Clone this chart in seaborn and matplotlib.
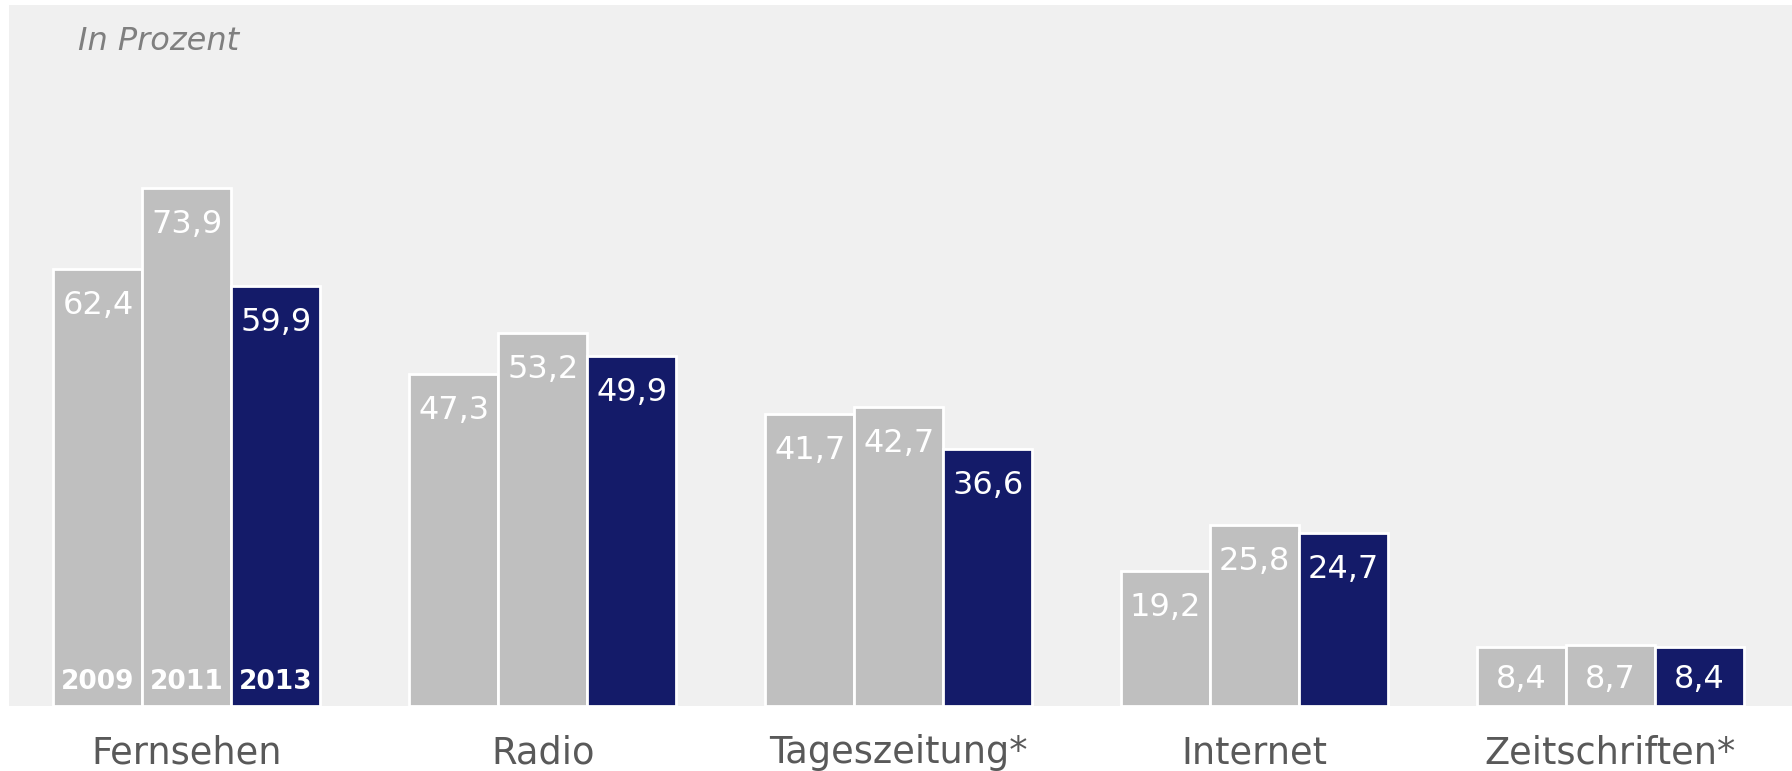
import matplotlib
matplotlib.use("Agg")
import matplotlib.pyplot as plt
import seaborn as sns
import pandas as pd

categories = ["Fernsehen", "Radio", "Tageszeitung*", "Internet", "Zeitschriften*"]
years = ["2009", "2011", "2013"]
v2009 = [62.4, 47.3, 41.7, 19.2, 8.4]
v2011 = [73.9, 53.2, 42.7, 25.8, 8.7]
v2013 = [59.9, 49.9, 36.6, 24.7, 8.4]
series = [v2009, v2011, v2013]
colors = ["#bfbfbf", "#bfbfbf", "#141b69"]

rows = []
for y, vals in zip(years, series):
    for c, v in zip(categories, vals):
        rows.append({"Kategorie": c, "Jahr": y, "Wert": v})
df = pd.DataFrame(rows)

sns.set_style("white")
plt.rcParams["font.family"] = ["DejaVu Sans"]

W, H = 1792, 771
fig = plt.figure(figsize=(W / 100, H / 100), dpi=100)
fig.patch.set_facecolor("white")
ax = fig.add_axes([9 / W, (H - 706) / H, (1792 - 9) / W, (706 - 5) / H])
ax.set_facecolor("#f0f0f0")

sns.barplot(data=df, x="Kategorie", y="Wert", hue="Jahr", hue_order=years,
            order=categories, palette=colors, width=0.75, edgecolor="white",
            linewidth=2, legend=False, ax=ax, saturation=1)

ax.set_ylim(0, 100)
ax.set_xlim(-0.5, 4.51)
for s in ax.spines.values():
    s.set_visible(False)
ax.set_yticks([])
ax.set_xlabel("")
ax.set_ylabel("")
ax.tick_params(axis="x", length=0, pad=20.5, labelsize=26.5, labelcolor="#595959")

px = 72 / 100.0
for cont, vals in zip(ax.containers, series):
    for bar, v in zip(cont.patches, vals):
        xc = bar.get_x() + bar.get_width() / 2
        hpx = v * 7.01
        off = -min(45, hpx - 18)
        ax.annotate(f"{v:.1f}".replace(".", ","), (xc, v), xytext=(0, off * px),
                    textcoords="offset points", ha="center", va="baseline",
                    color="white", fontsize=23)

for cont, y in zip(ax.containers, years):
    bar = cont.patches[0]
    xc = bar.get_x() + bar.get_width() / 2
    ax.annotate(y, (xc, 0), xytext=(0, 17 * px), textcoords="offset points",
                ha="center", va="baseline", color="white", fontsize=19,
                fontweight="bold")

fig.text(78 / W, (H - 50) / H, "In Prozent", fontsize=23, style="italic",
         color="#7f7f7f", ha="left", va="baseline")

fig.savefig("out.png", dpi=100)
